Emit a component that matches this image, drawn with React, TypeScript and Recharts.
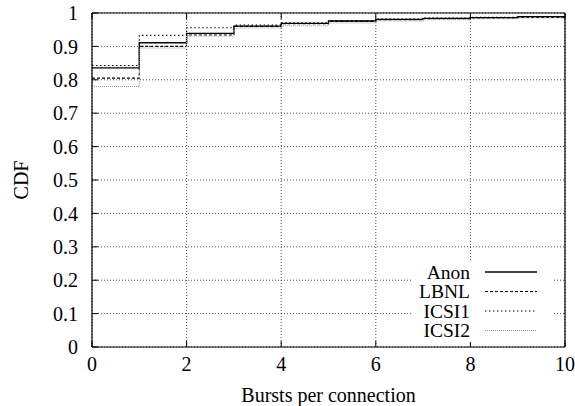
import { CartesianGrid, Line, LineChart, XAxis, YAxis } from "recharts";

const BURSTS = [0, 1, 2, 3, 4, 5, 6, 7, 8, 9, 10];
const ANON = [0.836, 0.911, 0.939, 0.961, 0.969, 0.976, 0.981, 0.984, 0.986, 0.989, 0.989];
const LBNL = [0.805, 0.9, 0.934, 0.96, 0.968, 0.975, 0.98, 0.983, 0.985, 0.987, 0.987];
const ICSI1 = [0.843, 0.933, 0.956, 0.964, 0.971, 0.977, 0.982, 0.985, 0.987, 0.989, 0.989];
const ICSI2 = [0.78, 0.895, 0.931, 0.955, 0.962, 0.97, 0.976, 0.98, 0.983, 0.985, 0.985];

const X_TICKS = [0, 2, 4, 6, 8, 10];
const Y_TICKS = [0, 0.1, 0.2, 0.3, 0.4, 0.5, 0.6, 0.7, 0.8, 0.9, 1];

const SERIES = [
  { key: "Anon", stroke: "#000", width: 1.3, dash: undefined },
  { key: "LBNL", stroke: "#000", width: 1.1, dash: "3 2" },
  { key: "ICSI1", stroke: "#000", width: 1.1, dash: "1.5 2.5" },
  { key: "ICSI2", stroke: "#999", width: 1.1, dash: "1 1" },
];

const data = BURSTS.map((x, i) => ({ x, Anon: ANON[i], LBNL: LBNL[i], ICSI1: ICSI1[i], ICSI2: ICSI2[i] }));

const FONT = "Liberation Serif";
const FS = 20;
const tickStyle = { fontSize: FS, fill: "#000", fontFamily: FONT };

// gnuplot-style key, opaque box in the lower right of the plot
function KeyBox() {
  return (
    <svg width={160} height={90} style={{ position: "absolute", left: 400, top: 258 }}>
      <rect x={12} y={2} width={141} height={82} fill="#fff" />
      {SERIES.map((s, i) => {
        const cy = 14 + i * 19.5;
        return (
          <g key={s.key}>
            <text x={70} y={cy} textAnchor="end" dominantBaseline="central" fontSize={19.5} fontFamily={FONT} fill="#000">
              {s.key}
            </text>
            <line x1={85} x2={137} y1={cy} y2={cy} stroke={s.stroke} strokeWidth={s.width} strokeDasharray={s.dash} />
          </g>
        );
      })}
    </svg>
  );
}

export default function App() {
  return (
    <div style={{ position: "absolute", left: 0, top: 0, width: 575, height: 406, background: "#fff", fontFamily: FONT }}>
      <LineChart width={575} height={406} data={data} margin={{ top: 0, right: 0, left: 0, bottom: 0 }}>
        <CartesianGrid stroke="#000" strokeWidth={0.7} strokeDasharray="1 2" horizontalValues={Y_TICKS} verticalValues={X_TICKS} />
        <XAxis
          dataKey="x" type="number" domain={[0, 10]} ticks={X_TICKS} height={59}
          tick={tickStyle} tickSize={-6} tickMargin={16}
          axisLine={{ stroke: "#000", strokeWidth: 1.2 }} tickLine={{ stroke: "#000" }}
          label={{ value: "Bursts per connection", position: "insideBottom", offset: 4, fontSize: FS, fill: "#000", fontFamily: FONT }}
        />
        <XAxis
          xAxisId="top" orientation="top" dataKey="x" type="number" domain={[0, 10]} ticks={X_TICKS} height={13}
          tick={() => <g />} tickSize={-6} axisLine={{ stroke: "#000", strokeWidth: 1.2 }} tickLine={{ stroke: "#000" }}
        />
        <YAxis
          type="number" domain={[0, 1]} ticks={Y_TICKS} width={92} interval={0}
          tick={tickStyle} tickSize={-6} tickMargin={20}
          axisLine={{ stroke: "#000", strokeWidth: 1.2 }} tickLine={{ stroke: "#000" }}
          label={{
            content: ({ viewBox }: any) => {
              const cx = viewBox.x + 21;
              const cy = viewBox.y + viewBox.height / 2;
              return (
                <text x={cx} y={cy} transform={`rotate(-90 ${cx} ${cy})`} textAnchor="middle" dominantBaseline="central" fontSize={FS} fontFamily={FONT} fill="#000">
                  CDF
                </text>
              );
            },
          }}
        />
        <YAxis
          yAxisId="right" orientation="right" type="number" domain={[0, 1]} ticks={Y_TICKS} width={10} interval={0}
          tick={() => <g />} tickSize={-6} axisLine={{ stroke: "#000", strokeWidth: 1.2 }} tickLine={{ stroke: "#000" }}
        />
        {SERIES.map((s) => (
          <Line
            key={s.key} type="stepAfter" dataKey={s.key} stroke={s.stroke} strokeWidth={s.width}
            strokeDasharray={s.dash} dot={false} activeDot={false} isAnimationActive={false}
          />
        ))}
      </LineChart>
      <KeyBox />
    </div>
  );
}
